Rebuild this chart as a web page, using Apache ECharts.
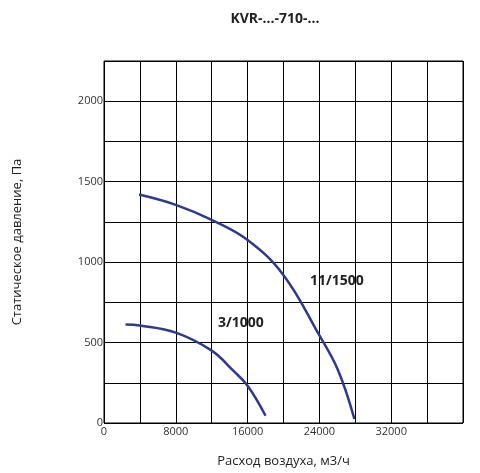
<!DOCTYPE html>
<html>
<head>
<meta charset="utf-8">
<script src="https://cdn.jsdelivr.net/npm/echarts@6/dist/echarts.min.js"></script>
<style>html,body{margin:0;padding:0;background:#fff}#chart{width:480px;height:473px}</style>
</head>
<body>
<div id="chart"></div>
<script>
// расход, м3/ч и давление, Па
const flow11 = [3900, 8000, 12000, 16000, 20000, 24000, 26100, 27900];
const pres11 = [1420, 1356, 1262, 1137, 919, 544, 325, 25];
const flow3 = [2400, 4000, 8000, 12000, 14400, 16000, 18000];
const pres3 = [612, 606, 562, 450, 325, 231, 45];
const xTickLabels = [0, 8000, 16000, 24000, 32000];
const yTickLabels = [0, 500, 1000, 1500, 2000];

const pairs = (xs, ys) => xs.map((x, i) => [x, ys[i]]);
const font = "'Open Sans', 'Noto Sans', sans-serif";

const chart = echarts.init(document.getElementById("chart"));
chart.setOption({
	animation: false,
	title: {
		text: "KVR-...-710-...",
		left: 270, top: 7, textAlign: "center",
		textStyle: { fontFamily: font, fontSize: 14, fontWeight: "bold", color: "#222" },
	},
	grid: { left: 104, right: 17, top: 61, bottom: 50 },
	xAxis: {
		type: "value", min: 0, max: 40000, interval: 4000,
		name: "Расход воздуха, м3/ч", nameLocation: "middle", nameGap: 32,
		nameTextStyle: { fontFamily: font, fontSize: 13, color: "#222" },
		axisLine: { show: false }, axisTick: { show: false },
		axisLabel: {
			fontFamily: font, fontSize: 11, color: "#333", margin: 3,
			formatter: (v) => (xTickLabels.includes(v) ? String(v) : ""),
		},
		splitLine: { lineStyle: { color: "#000", width: 1 } },
	},
	yAxis: {
		type: "value", min: 0, max: 2250, interval: 250,
		name: "Статическое давление, Па", nameLocation: "middle", nameGap: 80,
		nameTextStyle: { fontFamily: font, fontSize: 13, color: "#222" },
		axisLine: { show: false }, axisTick: { show: false },
		axisLabel: {
			fontFamily: font, fontSize: 11, color: "#333", margin: 1,
			formatter: (v) => (yTickLabels.includes(v) ? String(v) : ""),
		},
		splitLine: { lineStyle: { color: "#000", width: 1 } },
	},
	graphic: [
		{ type: "rect", shape: { x: 104, y: 61, width: 359, height: 362 }, style: { fill: "none", stroke: "#000", lineWidth: 1 } },
		{ type: "text", left: 310, top: 274, style: { text: "11/1500", font: "bold 14px " + font, fill: "#222" } },
		{ type: "text", left: 218, top: 316, style: { text: "3/1000", font: "bold 14px " + font, fill: "#222" } },
	],
	series: [
		{ type: "line", smooth: 0.4, symbol: "none", data: pairs(flow11, pres11), lineStyle: { color: "#2c3a8f", width: 2.5 } },
		{ type: "line", smooth: 0.4, symbol: "none", data: pairs(flow3, pres3), lineStyle: { color: "#2c3a8f", width: 2.5 } },
	],
});
</script>
</body>
</html>
